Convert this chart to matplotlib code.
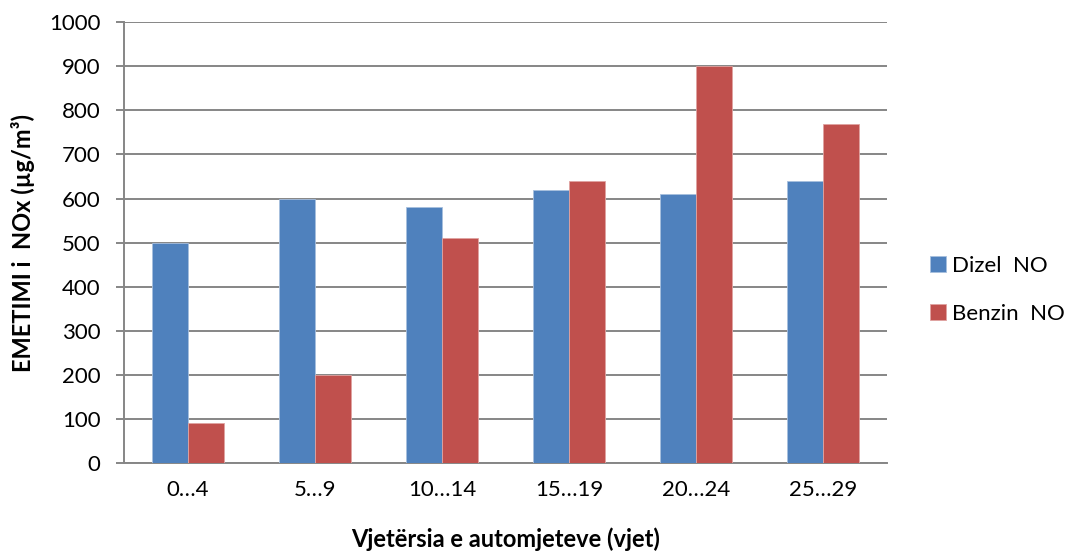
import numpy as np
import matplotlib.pyplot as plt

plt.rcParams['font.family'] = ['Lato', 'DejaVu Sans']

grupet = ['0…4', '5…9', '10…14', '15…19', '20…24', '25…29']
dizel = [500, 600, 580, 620, 610, 640]
benzin = [90, 200, 510, 640, 900, 770]

fig = plt.figure(figsize=(10.75, 5.54), dpi=100)
ax = fig.add_axes([0.1153, 0.164, 0.7098, 0.796])

x = np.arange(len(grupet))
w = 0.283
ax.bar(x - w / 2, dizel, w, color='#4f81bd', edgecolor='#a7bfde', linewidth=0.6, label='Dizel  NO', zorder=3)
ax.bar(x + w / 2, benzin, w, color='#c0504d', edgecolor='#e0a3a1', linewidth=0.6, label='Benzin  NO', zorder=3)

ax.set_xlim(-0.5, len(grupet) - 0.5)
ax.set_ylim(0, 1000)
ax.set_yticks(range(0, 1001, 100))
ax.set_xticks(x)
ax.set_xticklabels(grupet)
ax.yaxis.grid(True, color='#868686', linewidth=1.4)
ax.set_axisbelow(True)

for s in ['top', 'right']:
    ax.spines[s].set_visible(False)
ax.spines['left'].set_color('#868686')
ax.spines['left'].set_linewidth(1.4)
ax.spines['bottom'].set_color('#868686')
ax.spines['bottom'].set_linewidth(1.4)
ax.tick_params(axis='y', length=5.8, width=1.4, color='#868686', labelsize=16, pad=11)
ax.tick_params(axis='x', length=0, labelsize=16, pad=12)

ax.set_xlabel('Vjetërsia e automjeteve (vjet)', fontsize=17, fontweight='bold', labelpad=20)
ax.set_ylabel('EMETIMI i  NOx (µg/m³)', fontsize=17, fontweight='bold', labelpad=10)

ax.legend(loc='center left', bbox_to_anchor=(1.056, 0.393), frameon=False,
          fontsize=16, handlelength=0.75, handleheight=0.75, handletextpad=0.25,
          labelspacing=1.25, borderpad=0, borderaxespad=0)

fig.savefig('out.png', dpi=100)
